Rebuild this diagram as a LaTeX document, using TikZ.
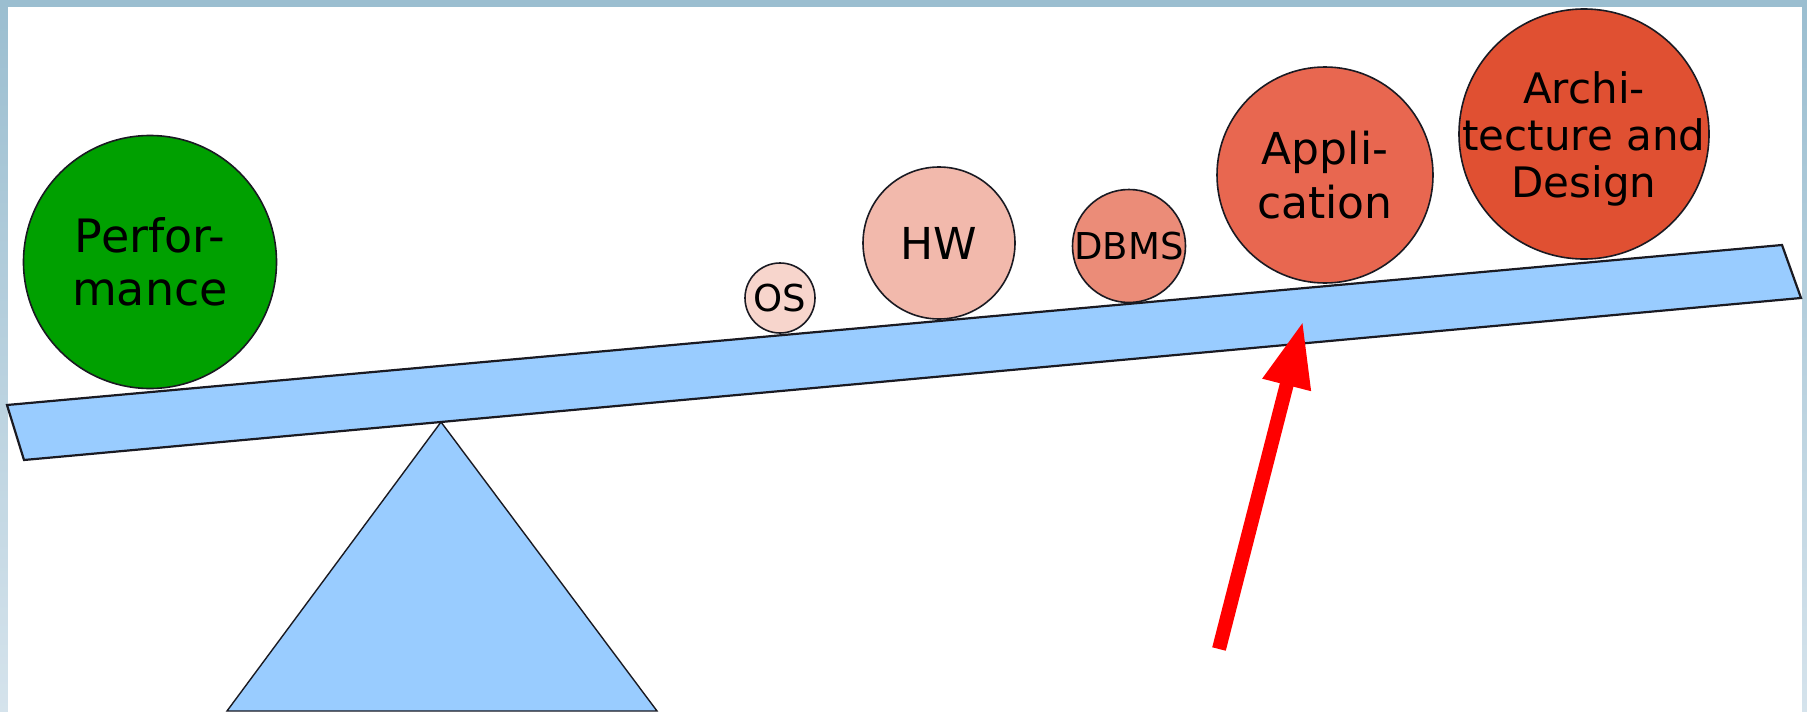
\documentclass[tikz,border=0pt]{standalone}
\usepackage{fontspec}
\setmainfont{DejaVu Sans}
\usetikzlibrary{arrows.meta}

\definecolor{frametop}{HTML}{9BBED0}
\definecolor{framebot}{HTML}{D5E3EC}
\definecolor{plankblue}{HTML}{99CCFF}
\definecolor{perfgreen}{HTML}{00A000}
\definecolor{osfill}{HTML}{F7D5CC}
\definecolor{hwfill}{HTML}{F2B9AC}
\definecolor{dbmsfill}{HTML}{EB8C78}
\definecolor{appfill}{HTML}{E86750}
\definecolor{archfill}{HTML}{E05032}
\definecolor{edge}{HTML}{1A1A22}

\begin{document}
\begin{tikzpicture}[x=1pt,y=-1pt,
  ball/.style={circle, draw=edge, line width=1.6pt, inner sep=0pt},
  balltext/.style={align=center, inner sep=0pt, text=black},
  board/.style={fill=plankblue, draw=edge, line width=2.2pt, line join=miter},
  fulcrum/.style={fill=plankblue, draw=edge, line width=1.4pt, line join=miter},
  pointer/.style={draw=red, line width=14pt, -{Triangle[length=66pt,width=46pt]}}]

% frame and page
\useasboundingbox (0,0) rectangle (1807,712);
\fill[top color=frametop, bottom color=framebot] (0,0) rectangle (1807,712);
\fill[white] (8,7) rectangle (1802,712);

% seesaw plank
\coordinate (pTL) at (7,405);
\coordinate (pTR) at (1782,245);
\coordinate (pBR) at (1801,298);
\coordinate (pBL) at (24,460);
\draw[board] (pTL) -- (pTR) -- (pBR) -- (pBL) -- cycle;

% fulcrum
\coordinate (fTop) at (441,422);
\coordinate (fR) at (657,711);
\coordinate (fL) at (227,711);
\draw[fulcrum] (fTop) -- (fR) -- (fL) -- cycle;

% weights on the left
\node[ball, fill=perfgreen, minimum size=253pt] (perf) at (150,262) {};
\node[balltext, font=\fontsize{46}{53}\selectfont] (perftext) at (perf) {Perfor-\\mance};

% weights on the right
\node[ball, fill=osfill, minimum size=70pt] (os) at (780,298) {};
\node[balltext, font=\fontsize{37}{42}\selectfont] (ostext) at (os) {OS};

\node[ball, fill=hwfill, minimum size=152pt] (hw) at (939,243) {};
\node[balltext, font=\fontsize{44}{51}\selectfont] (hwtext) at (hw) {HW};

\node[ball, fill=dbmsfill, minimum size=113pt] (dbms) at (1129,246) {};
\node[balltext, font=\fontsize{37}{42}\selectfont] (dbmstext) at (dbms) {DBMS};

\node[ball, fill=appfill, minimum size=216pt] (app) at (1325,175) {};
\node[balltext, font=\fontsize{44}{54}\selectfont] (apptext) at (app) {Appli-\\cation};

\node[ball, fill=archfill, minimum size=250pt] (arch) at (1584,134) {};
\node[balltext, font=\fontsize{42}{47}\selectfont] (archtext) at ([yshift=-5pt]arch.center) {Archi-\\tecture and\\Design};

% pointer under the plank
\coordinate (atail) at (1219,649);
\coordinate (atip) at (1303,321);
\draw[pointer] (atail) -- (atip);
\end{tikzpicture}
\end{document}
